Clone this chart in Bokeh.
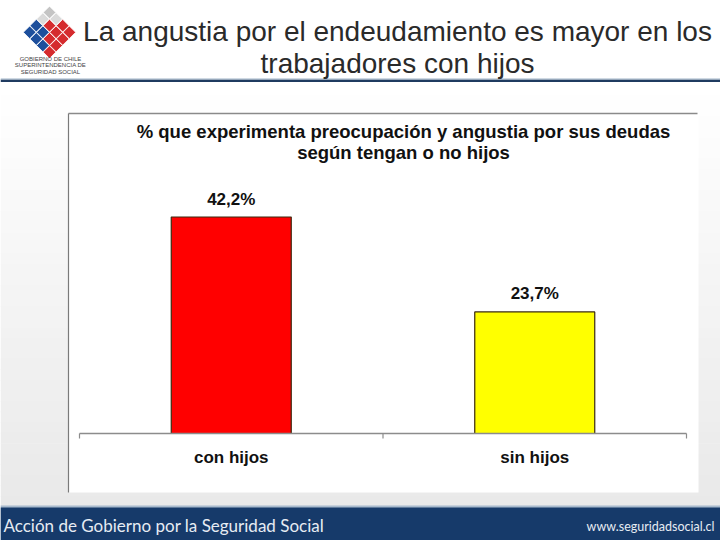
import math
from bokeh.plotting import figure
from bokeh.models import Range1d
from bokeh.core.properties import value
from bokeh.embed import file_html
from bokeh.resources import INLINE

# ---- data ----
categories = ["con hijos", "sin hijos"]
values = [42.2, 23.7]
value_labels = ["42,2%", "23,7%"]
bar_colors = ["#ff0000", "#ffff00"]
slide_title = ["La angustia por el endeudamiento es mayor en los", "trabajadores con hijos"]
chart_title = ["% que experimenta preocupación y angustia por sus deudas", "según tengan o no hijos"]
logo_text = ["GOBIERNO DE CHILE", "SUPERINTENDENCIA DE", "SEGURIDAD SOCIAL"]
footer_left = "Acción de Gobierno por la Seguridad Social"
footer_right = "www.seguridadsocial.cl"

# ---- layout helpers (pixel positions of the slide -> data space) ----
SX = 303.5   # px per category
SY = 5.13    # px per percentage point
X0, Y0 = 79, 433


def dx(px):
    return (px - X0) / SX


def dy(py):
    return (Y0 - py) / SY


W, H = 720, 540
p = figure(width=W, height=H, output_backend="svg", toolbar_location=None,
           x_range=Range1d(dx(0), dx(W)), y_range=Range1d(dy(H), dy(0)),
           x_axis_type=None, y_axis_type=None, min_border=0,
           outline_line_color=None, background_fill_color="white",
           border_fill_color="white")
p.grid.visible = False

# background gradient of the slide
N = 40
top, bot = 84, 506
for k in range(N):
    t = k / (N - 1)
    c = int(round(255 - t * (255 - 233)))
    y1 = top + (bot - top) * k / N
    y2 = top + (bot - top) * (k + 1) / N
    p.quad(left=dx(0), right=dx(W), top=dy(y1), bottom=dy(y2 + 0.6),
           fill_color=(c, c, c), line_color=None)

# header line
p.quad(left=dx(0), right=dx(W), top=dy(79), bottom=dy(81.5),
       fill_color="#1f3b60", line_color=None)
p.quad(left=dx(0), right=dx(W), top=dy(78), bottom=dy(79),
       fill_color="#9fb3c8", line_color=None)

# logo (isometric cubes)
cx, cy0, st = 49, 12, 6.6
lx, ly, lc = [], [], []
for i in range(4):
    for j in range(4):
        if i + j <= 1:
            col = "#c4c4c4" if (i + j) == 0 else "#dadada"
        elif j > i:
            col = "#1d4f9c"
        else:
            col = "#d52b2e"
        lx.append(dx(cx + (i - j) * st))
        ly.append(dy(cy0 + (i + j) * st))
        lc.append(col)
p.scatter(x=lx, y=ly, marker="square", size=9, angle=math.pi / 4,
          fill_color=lc, line_color="white", line_width=0.8)
for k, t in enumerate(logo_text):
    p.text(x=[dx(50)], y=[dy(58 + k * 6.5)], text=[t], text_align="center",
           text_baseline="middle", text_font=value("Liberation Sans"),
           text_font_size="6px", text_color="#444444")

# slide title
for k, t in enumerate(slide_title):
    p.text(x=[dx(397)], y=[dy(31 + k * 32)], text=[t], text_align="center",
           text_baseline="middle", text_font=value("Liberation Sans"),
           text_font_size="28px", text_color="#2a2a2a")

# chart box
p.quad(left=dx(68), right=dx(698), top=dy(113), bottom=dy(492),
       fill_color="white", line_color=None)
p.segment(x0=[dx(68)], y0=[dy(113)], x1=[dx(697)], y1=[dy(113)],
          line_color="#8a8a8a", line_width=1.5)
p.segment(x0=[dx(68)], y0=[dy(113)], x1=[dx(68)], y1=[dy(492)],
          line_color="#7a7a7a", line_width=1.2)

# chart title
for k, t in enumerate(chart_title):
    p.text(x=[dx(403)], y=[dy(131 + k * 21)], text=[t], text_align="center",
           text_baseline="middle", text_font=value("Liberation Sans"),
           text_font_style="bold", text_font_size="18.5px", text_color="#111111")

# bars
xs = [i + 0.5 for i in range(len(categories))]
p.vbar(x=xs, top=values, bottom=0, width=120 / SX, fill_color=bar_colors,
       line_color="#3a2a10", line_width=1.2)

# category axis
n = len(categories)
p.segment(x0=[0], y0=[0], x1=[n], y1=[0], line_color="#8c8c8c", line_width=1.5)
tx = list(range(n + 1))
p.segment(x0=tx, y0=[0] * len(tx), x1=tx, y1=[-5 / SY] * len(tx),
          line_color="#8c8c8c", line_width=1.2)

p.text(x=xs, y=[dy(457)] * n, text=categories, text_align="center",
       text_baseline="middle", text_font=value("Liberation Sans"),
       text_font_style="bold", text_font_size="17px", text_color="#111111")
p.text(x=xs, y=values, text=value_labels, text_align="center",
       text_baseline="middle", y_offset=-18, text_font=value("Liberation Sans"),
       text_font_style="bold", text_font_size="17px", text_color="#111111")

# footer banner
p.quad(left=dx(0), right=dx(W), top=dy(505), bottom=dy(H),
       fill_color="#a8bacd", line_color=None)
p.quad(left=dx(0), right=dx(W), top=dy(507), bottom=dy(H),
       fill_color="#163a6a", line_color=None)
p.text(x=[dx(3)], y=[dy(525)], text=[footer_left], text_align="left",
       text_baseline="middle", text_font=value("Lato"),
       text_font_size="17px", text_color="#e6ecf3")
p.text(x=[dx(714)], y=[dy(526)], text=[footer_right], text_align="right",
       text_baseline="middle", text_font=value("Lato"),
       text_font_size="12.5px", text_color="#e6ecf3")

open("out.html", "w").write(file_html(p, INLINE))
